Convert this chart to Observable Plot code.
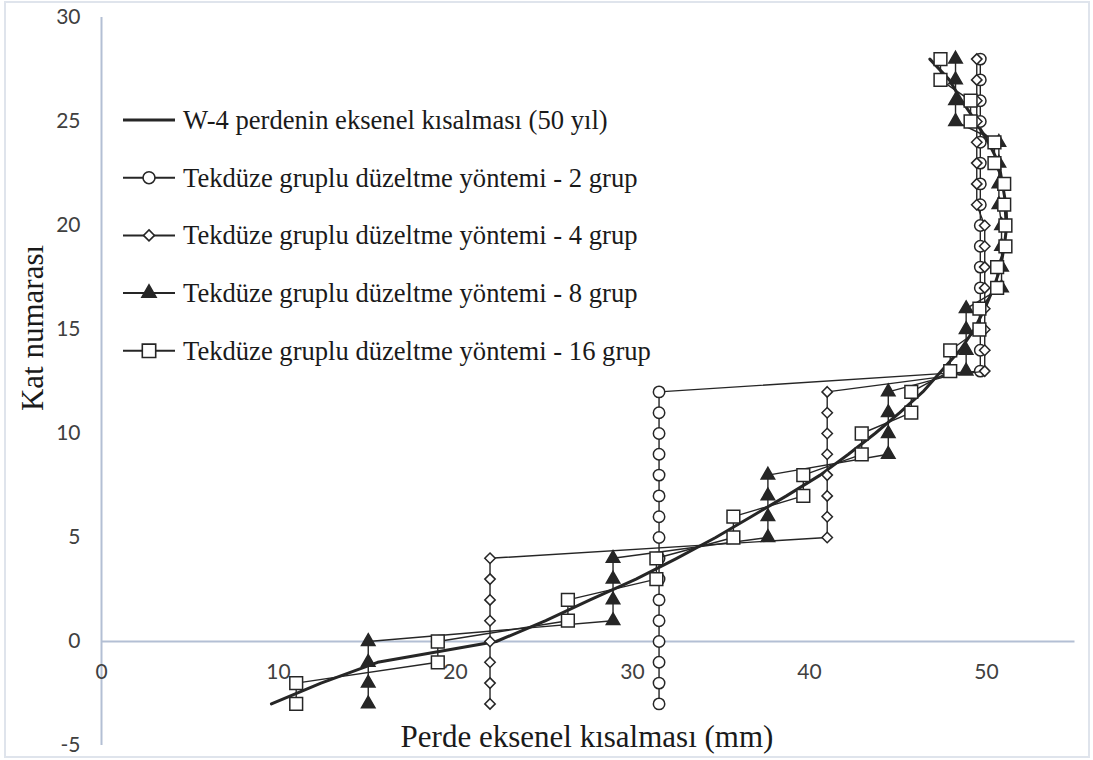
<!DOCTYPE html>
<html><head><meta charset="utf-8">
<script src="https://cdn.jsdelivr.net/npm/d3@7"></script>
<script src="https://cdn.jsdelivr.net/npm/@observablehq/plot@0.6"></script>
<style>
body{margin:0;background:#fff;}
#wrap{position:relative;width:1093px;height:760px;overflow:hidden;background:#fff;}
#frame{position:absolute;left:4px;top:1px;width:1086px;height:757px;border:2px solid #dfe4ec;box-sizing:border-box;pointer-events:none;}
#wrap svg{position:absolute;left:0;top:0;}
</style></head><body><div id="wrap"><div id="frame"></div></div>
<script>
// Kat numarası (floor numbers)
const floors = [-3,-2,-1,0,1,2,3,4,5,6,7,8,9,10,11,12,13,14,15,16,17,18,19,20,21,22,23,24,25,26,27,28];
// W-4 perdenin eksenel kısalması (50 yıl), mm
const w4 = [9.6,12.4,15.6,22.3,25.1,27.6,30.2,32.5,34.7,36.7,38.7,40.6,42.2,43.7,45.1,46.4,47.45,48.5,49.3,49.9,50.4,50.8,51.0,51.15,51.1,50.9,50.7,50.1,49.4,48.6,47.9,46.8];
// Tekdüze gruplu düzeltme yöntemi - 2 grup
const g2 = [31.5,31.5,31.5,31.5,31.5,31.5,31.5,31.5,31.5,31.5,31.5,31.5,31.5,31.5,31.5,31.5,49.65,49.65,49.65,49.65,49.65,49.65,49.65,49.65,49.65,49.65,49.65,49.65,49.65,49.65,49.65,49.65];
// 4 grup
const g4 = [21.95,21.95,21.95,21.95,21.95,21.95,21.95,21.95,41.0,41.0,41.0,41.0,41.0,41.0,41.0,41.0,49.9,49.9,49.9,49.9,49.9,49.9,49.9,49.9,49.45,49.45,49.45,49.45,49.45,49.45,49.45,49.45];
// 8 grup
const g8 = [15.07,15.07,15.07,15.07,28.9,28.9,28.9,28.9,37.65,37.65,37.65,37.65,44.45,44.45,44.45,44.45,48.85,48.85,48.85,48.85,50.85,50.85,50.85,50.85,50.7,50.7,50.7,50.7,48.25,48.25,48.25,48.25];
// 16 grup
const g16 = [11.0,11.0,19.0,19.0,26.35,26.35,31.35,31.35,35.7,35.7,39.65,39.65,42.95,42.95,45.75,45.75,47.95,47.95,49.6,49.6,50.6,50.6,51.07,51.07,51.0,51.0,50.45,50.45,49.1,49.1,47.4,47.4];

const seriesNames = [
  "W-4 perdenin eksenel kısalması (50 yıl)",
  "Tekdüze gruplu düzeltme yöntemi - 2 grup",
  "Tekdüze gruplu düzeltme yöntemi - 4 grup",
  "Tekdüze gruplu düzeltme yöntemi - 8 grup",
  "Tekdüze gruplu düzeltme yöntemi - 16 grup"
];
const xTicks = [0,10,20,30,40,50];
const yTicks = [-5,0,5,10,15,20,25,30];
const xTitle = "Perde eksenel kısalması (mm)";
const yTitle = "Kat numarası";

const ink = "#262626";
const axisColor = "#b3bfd4";
const tickFont = "Lato, 'Open Sans', sans-serif";
const serif = "'Liberation Serif', 'Times New Roman', serif";

const styles = [
  {values: w4, symbol: null, lineWidth: 3},
  {values: g2, symbol: "circle", r: 5.7, fill: "white", lineWidth: 1.4},
  {values: g4, symbol: "diamond2", r: 4.7, fill: "white", lineWidth: 1.4},
  {values: g8, symbol: "triangle", r: 5.0, fill: ink, lineWidth: 1.4},
  {values: g16, symbol: "square", r: 7.2, fill: "white", lineWidth: 1.4}
];

const marks = [
  Plot.ruleX([0], {stroke: axisColor, strokeWidth: 2}),
  Plot.ruleY([0], {stroke: axisColor, strokeWidth: 2}),
  Plot.axisY({ticks: yTicks, tickSize: 0, tickPadding: 21, label: null, fontSize: 21, fontFamily: tickFont, color: "#404040", tickFormat: d => String(d)}),
  Plot.text(xTicks, {x: d => d, y: () => 0, dy: 31, text: d => String(d), fontSize: 21, fontFamily: tickFont, fill: "#404040"})
];

styles.forEach((s, i) => {
  const rows = floors.map((f, j) => ({floor: f, value: s.values[j]}));
  marks.push(Plot.line(rows, {x: "value", y: "floor", stroke: ink, strokeWidth: s.lineWidth, curve: "linear"}));
  if (s.symbol) {
    marks.push(Plot.dot(rows, {x: "value", y: "floor", symbol: s.symbol, r: s.r, fill: s.fill, stroke: ink, strokeWidth: 1.5}));
  }
});

const chart = Plot.plot({
  width: 1093,
  height: 760,
  marginLeft: 101,
  marginRight: 18.5,
  marginTop: 17,
  marginBottom: 15,
  x: {domain: [0, 55], axis: null},
  y: {domain: [-5, 30], axis: null},
  style: {background: "transparent", overflow: "visible"},
  marks
});

const svg = d3.select(chart);
svg.append("text")
  .attr("x", 587).attr("y", 747)
  .attr("text-anchor", "middle")
  .style("font-family", serif).style("font-size", "31px").attr("fill", "#1a1a1a")
  .text(xTitle);
svg.append("text")
  .attr("transform", "translate(43,328) rotate(-90)")
  .attr("text-anchor", "middle")
  .style("font-family", serif).style("font-size", "31px").attr("fill", "#1a1a1a")
  .text(yTitle);

const symMap = {circle: d3.symbolCircle, diamond2: d3.symbolDiamond2, triangle: d3.symbolTriangle, square: d3.symbolSquare};
const lg = svg.append("g");
seriesNames.forEach((name, i) => {
  const cy = 120 + i * 57.7;
  const s = styles[i];
  const g = lg.append("g").attr("transform", `translate(0,${cy})`);
  g.append("line").attr("x1", 123).attr("x2", 175).attr("y1", 0).attr("y2", 0)
    .attr("stroke", ink).attr("stroke-width", i === 0 ? 3 : 2);
  if (s.symbol) {
    g.append("path")
      .attr("transform", "translate(149,0)")
      .attr("d", d3.symbol(symMap[s.symbol], Math.PI * s.r * s.r * 1.1)())
      .attr("fill", s.fill).attr("stroke", ink).attr("stroke-width", 1.6);
  }
  g.append("text").attr("x", 183).attr("y", 9)
    .attr("text-anchor", "start")
    .style("font-family", serif).style("font-size", "26.6px").attr("fill", "#1a1a1a")
    .text(name);
});

document.getElementById("wrap").appendChild(chart);
</script>
</body></html>
